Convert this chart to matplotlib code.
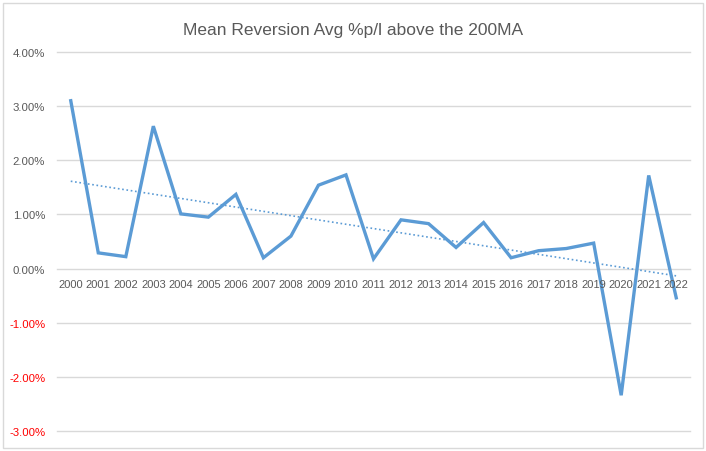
import numpy as np
import matplotlib.pyplot as plt
from matplotlib.patches import Rectangle
from matplotlib.ticker import FuncFormatter

years = [str(y) for y in range(2000, 2023)]
avg_pl = [3.10, 0.29, 0.22, 2.63, 1.01, 0.95, 1.37, 0.20, 0.60, 1.54, 1.73,
          0.18, 0.90, 0.83, 0.39, 0.85, 0.20, 0.33, 0.37, 0.47, -2.34, 1.72, -0.54]

BLUE = "#5B9BD5"
GREY = "#595959"

plt.rcParams["font.family"] = ["Liberation Sans", "DejaVu Sans"]

fig = plt.figure(figsize=(7.06, 4.52), dpi=100)
ax = fig.add_axes([57 / 706, 1 - 432 / 452, 633 / 706, 379 / 452])

x = np.arange(len(years))
y = np.array(avg_pl)
ax.plot(x, y, color=BLUE, lw=2.4, solid_joinstyle="miter", zorder=3)

# linear trendline
slope, icept = np.polyfit(x, y, 1)
ax.plot(x, slope * x + icept, color=BLUE, lw=1.2, ls=(0, (1, 1.6)), zorder=2)

ax.set_xlim(-0.5, len(years) - 0.5)
ax.set_ylim(-3, 4)
ax.set_yticks(np.arange(-3, 5, 1))
ax.yaxis.set_major_formatter(FuncFormatter(lambda v, p: f"{v:.2f}%"))
for v in ax.get_yticks():
    ax.axhline(v, color="#d9d9d9", lw=1, zorder=0, clip_on=False)
for s in ax.spines.values():
    s.set_visible(False)
ax.tick_params(axis="y", length=0, pad=8.5, labelsize=8.2, labelcolor=GREY)
for lbl, v in zip(ax.get_yticklabels(), ax.get_yticks()):
    if v < 0:
        lbl.set_color("#ff0000")

# category labels sit on the zero line
ax.set_xticks([])
for xi, yr in zip(x, years):
    ax.text(xi, -0.2, yr, ha="center", va="top", fontsize=8, color=GREY)

fig.text(0.5, 1 - 30 / 452, "Mean Reversion Avg %p/l above the 200MA",
         ha="center", va="center", fontsize=12.5, color=GREY)

fig.patches.append(Rectangle((3 / 706, 3 / 452), 700 / 706, 445 / 452,
                             transform=fig.transFigure, fill=False,
                             edgecolor="#d9d9d9", lw=1))

fig.savefig("out.png", dpi=100, facecolor="white")
